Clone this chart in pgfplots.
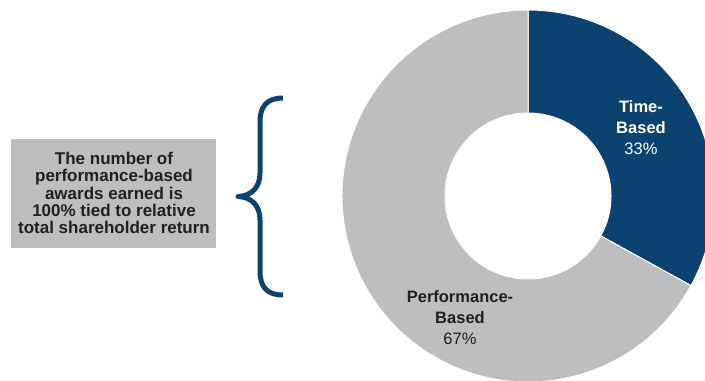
\documentclass[border=0pt]{standalone}
\usepackage{pgfplots}
\pgfplotsset{compat=1.18}
\usepackage{pgfplotstable}
\usepackage{fontspec}
\setmainfont{Liberation Sans}
\usetikzlibrary{calc}
\definecolor{tblue}{RGB}{11,66,112}
\definecolor{pgray}{RGB}{189,190,192}
\definecolor{txt}{RGB}{35,31,32}
\pgfplotstableread{
name value
Time 33
Performance 67
}\piedata
\begin{document}
\begin{tikzpicture}
\pgfplotstablegetelem{0}{value}\of\piedata \let\valA\pgfplotsretval
\pgfplotstablegetelem{1}{value}\of\piedata \let\valB\pgfplotsretval
\pgfmathsetmacro\angA{90-360*\valA/(\valA+\valB)}
\begin{axis}[hide axis, scale only axis, width=705bp, height=381bp,
  xmin=0, xmax=705, ymin=0, ymax=381]
% Time-based slice
\filldraw[fill=tblue, draw=white, line width=1bp]
  (axis cs:528,185) ++(90:186bp) arc[start angle=90, end angle=\angA, radius=186bp]
  -- ($(axis cs:528,185)+(\angA:83bp)$) arc[start angle=\angA, end angle=90, radius=83bp] -- cycle;
% Performance-based slice
\filldraw[fill=pgray, draw=white, line width=1bp]
  (axis cs:528,185) ++(\angA:186bp) arc[start angle=\angA, end angle=-270, radius=186bp]
  -- ($(axis cs:528,185)+(90:83bp)$) arc[start angle=-270, end angle=\angA, radius=83bp] -- cycle;
% labels
\node[text=white, align=center, font=\fontsize{16.5bp}{21bp}\selectfont] at (axis cs:641,253)
  {\textbf{Time-}\\\textbf{Based}\\33\%};
\node[text=txt, align=center, font=\fontsize{16.5bp}{21bp}\selectfont] at (axis cs:460,63)
  {\textbf{Performance-}\\\textbf{Based}\\67\%};
% note box
\fill[pgray] (axis cs:11,133) rectangle (axis cs:216,242);
\node[text=txt, align=center, font=\fontsize{17bp}{17.1bp}\selectfont\bfseries] at (axis cs:114,188)
  {The number of\\performance-based\\awards earned is\\100\% tied to relative\\total shareholder return};
% brace
\draw[tblue, line width=5bp, line join=round]
  (axis cs:283,283) .. controls (axis cs:267,283) and (axis cs:260,275) .. (axis cs:260,259)
  -- (axis cs:260,208) .. controls (axis cs:260,193) and (axis cs:251,185) .. (axis cs:238,184.5)
  .. controls (axis cs:251,184) and (axis cs:260,176) .. (axis cs:260,161)
  -- (axis cs:260,110) .. controls (axis cs:260,94) and (axis cs:267,86) .. (axis cs:283,86);
\end{axis}
\pgfresetboundingbox
\useasboundingbox (0,0) rectangle (705bp,381bp);
\end{tikzpicture}
\end{document}
